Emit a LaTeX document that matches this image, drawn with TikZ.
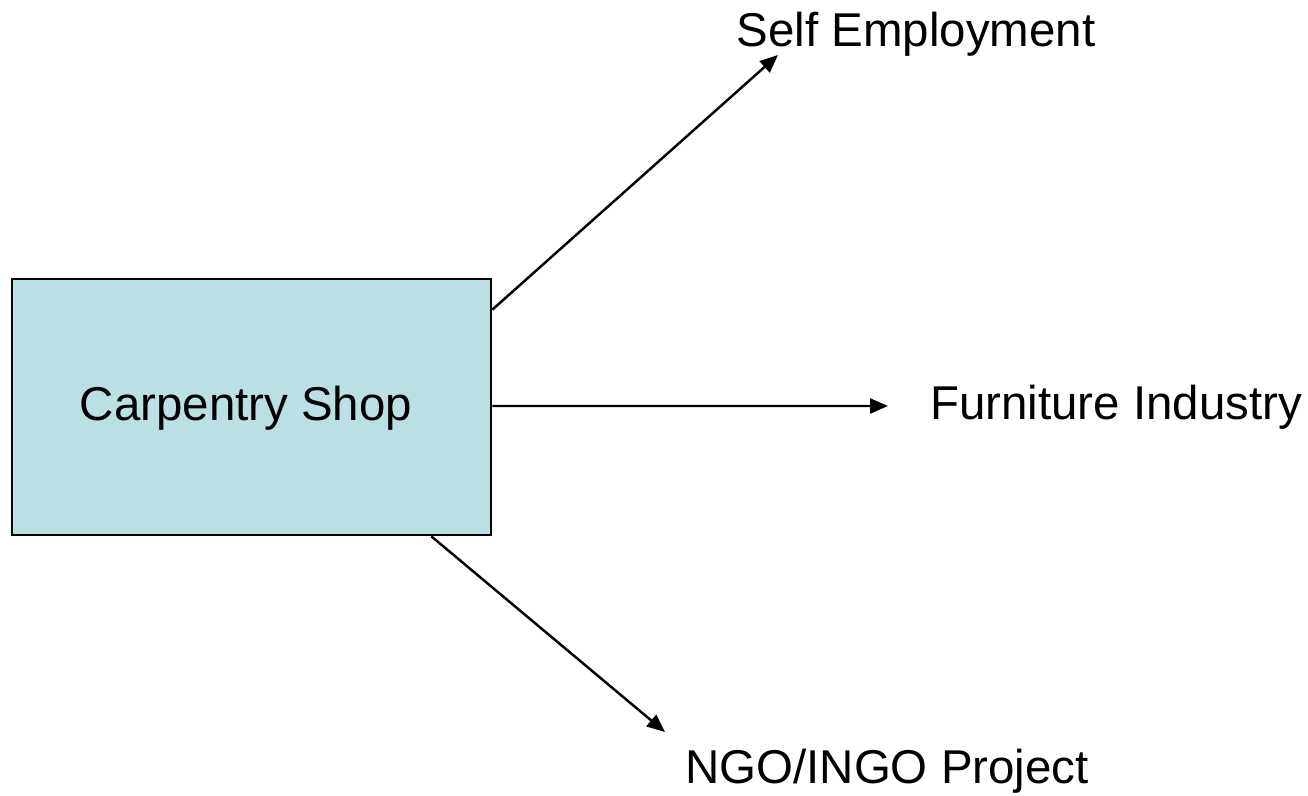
\documentclass[tikz,border=0pt]{standalone}
\usepackage{fontspec}
\setmainfont{Liberation Sans}
\usetikzlibrary{arrows.meta}
\definecolor{shopblue}{HTML}{BBE0E3}
\tikzstyle{shop}=[rectangle,draw=black,fill=shopblue,line width=1.5pt,minimum width=9.58cm,minimum height=5.12cm,inner sep=0mm]
\tikzstyle{place}=[inner sep=0mm,font=\fontsize{27}{32}\selectfont]
\tikzstyle{arrow}=[-{Triangle[length=0.36cm,width=0.3cm]},line width=1.4pt]

\begin{document}
\begin{tikzpicture}
      \useasboundingbox (0,0) rectangle (26.16,15.9);
      \node[shop] at (5.03,7.76) (shop) {};
      \node[place] at (4.92,7.74) (shoplabel) {Carpentry Shop};
      \node[place] at (18.32,15.22) (self) {Self Employment};
      \node[place] at (22.32,7.76) (furn) {Furniture Industry};
      \node[place] at (17.74,0.48) (ngo) {NGO/INGO Project};
      \coordinate (selfend) at (15.56,14.8);
      \coordinate (furnend) at (17.76,7.78);
      \coordinate (ngoend) at (13.3,1.26);
      \draw[arrow] ([yshift=-0.64cm]shop.north east) -- (selfend);
      \draw[arrow] ([yshift=0.02cm]shop.east) -- (furnend);
      \draw[arrow] ([xshift=-1.22cm]shop.south east) -- (ngoend);
    \end{tikzpicture}
\end{document}
